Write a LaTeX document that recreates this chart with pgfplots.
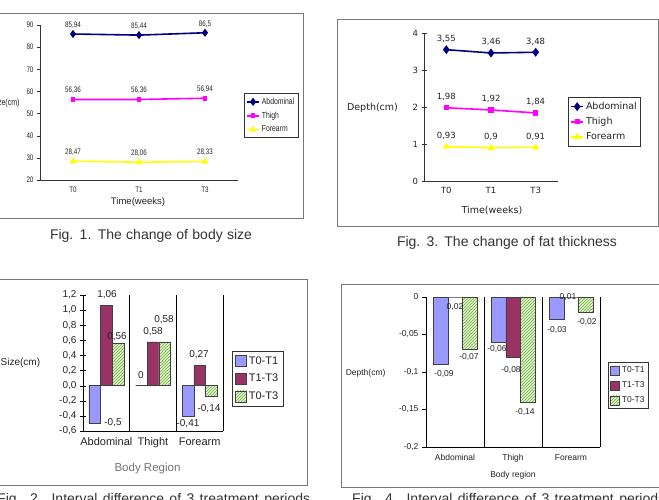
\documentclass[border=0pt]{standalone}
\usepackage{pgfplots}
\pgfplotsset{compat=1.18}
\usetikzlibrary{patterns}
\usepackage{fontspec}
\setmainfont{Liberation Sans}
\newfontfamily\narrowfont[FakeStretch=0.78]{Liberation Sans}
\newfontfamily\dejavu{DejaVu Sans}

\definecolor{navyline}{RGB}{0,0,128}
\definecolor{magline}{RGB}{255,0,255}
\definecolor{yelline}{RGB}{255,255,0}
\definecolor{periw}{RGB}{153,153,255}
\definecolor{plum}{RGB}{153,51,102}
\definecolor{hatchgreen}{RGB}{110,170,60}
\definecolor{hatchbg}{RGB}{225,245,205}
\definecolor{framegray}{RGB}{120,120,120}
\definecolor{ink}{RGB}{35,35,35}

\newcommand\fA{\narrowfont\fontsize{8}{9}\selectfont}
\newcommand\fAleg{\narrowfont\fontsize{8.8}{10}\selectfont}
\newcommand\fAl{\narrowfont\fontsize{9}{10}\selectfont}
\newcommand\fC{\dejavu\fontsize{8.5}{10}\selectfont}
\newcommand\fCl{\dejavu\fontsize{9.5}{11}\selectfont}
\newcommand\fB{\fontsize{10}{11}\selectfont}
\newcommand\fBl{\fontsize{10}{12}\selectfont}
\newcommand\fD{\fontsize{8.5}{10}\selectfont}
\newcommand\fCap{\fontsize{14}{16}\selectfont}

\pgfplotsset{
  linelegend/.style={
    legend image code/.code={
      \draw[mark repeat=2,mark phase=2,##1] plot coordinates {(0pt,0pt) (6pt,0pt) (12pt,0pt)};}
  },
  boxlegend/.style={
    legend image code/.code={\draw[##1] (0pt,-#1/2) rectangle (#1,#1/2);}
  },
  t01/.style={ybar, bar width=0.25, bar shift=0pt, fill=periw, draw=black!75, line width=0.5pt},
  t13/.style={ybar, bar width=0.25, bar shift=0pt, fill=plum, draw=black!75, line width=0.5pt},
  t03/.style={ybar, bar width=0.25, bar shift=0pt, fill=hatchbg, draw=black!75, line width=0.5pt,
    postaction={pattern=north east lines, pattern color=hatchgreen}},
}

\begin{document}
\begin{tikzpicture}[x=1pt,y=1pt]
\path[use as bounding box] (0,0) rectangle (659,-499);
\begin{scope}
\clip (0,0) rectangle (659,-499);

% ---------- frames ----------
\draw[framegray, line width=0.8pt] (-5,-13) rectangle (303,-218);
\draw[framegray, line width=0.8pt] (337,-19) rectangle (658,-226);
\draw[framegray, line width=0.8pt] (-5,-279) rectangle (307,-485);
\draw[framegray, line width=0.8pt] (341,-284) rectangle (668,-487);

% ---------- Fig. 1: body size ----------
\begin{axis}[
  at={(40pt,-180pt)}, anchor=south west, scale only axis,
  width=198pt, height=155pt,
  xmin=-0.5, xmax=2.5, ymin=20, ymax=90,
  axis x line*=bottom, axis y line*=left,
  axis line style={black!80, line width=0.7pt},
  xtick={0,1,2}, xticklabels={T0,T1,T3},
  ytick={20,30,40,50,60,70,80,90},
  tick align=outside, major tick length=3pt,
  xtick style={draw=none}, ytick style={black!80},
  tick label style={font=\fA, text=ink},
  /pgf/number format/assume math mode=true,
  /pgf/number format/use comma,
  /pgf/number format/precision=2,
  nodes near coords,
  nodes near coords style={font=\fA, text=ink, anchor=south, yshift=1.5pt},
  linelegend,
  legend style={at={(1.03,0.561)}, anchor=north west, draw=black!80, line width=0.7pt,
    font=\fAleg, text=ink, inner xsep=2pt, inner ysep=2.5pt, row sep=2pt,
    cells={anchor=west}},
]
\addplot[navyline, line width=1.6pt, mark=diamond*, mark size=2.8pt]
  coordinates {(0,85.94) (1,85.44) (2,86.5)};
\addlegendentry{Abdominal}
\addplot[magline, line width=1.6pt, mark=square*, mark size=1.6pt]
  coordinates {(0,56.36) (1,56.36) (2,56.94)};
\addlegendentry{Thigh}
\addplot[yelline, line width=1.6pt, mark=triangle*, mark size=2.4pt]
  coordinates {(0,28.47) (1,28.06) (2,28.33)};
\addlegendentry{Forearm}
\end{axis}
\node[anchor=east, font=\fAl, text=ink] at (23,-103) {Size(cm)};
\node[font=\fontsize{9.5}{11}\selectfont, text=ink] at (138,-202) {Time(weeks)};

% ---------- Fig. 3: fat thickness ----------
\begin{axis}[
  at={(424pt,-181pt)}, anchor=south west, scale only axis,
  width=134pt, height=148pt,
  xmin=-0.5, xmax=2.5, ymin=0, ymax=4,
  axis x line*=bottom, axis y line*=left,
  axis line style={black!80, line width=0.7pt},
  xtick={0,1,2}, xticklabels={T0,T1,T3},
  ytick={0,1,2,3,4},
  tick align=center, major tick length=5pt,
  xtick style={draw=none}, ytick style={black!80},
  tick label style={font=\fC, text=ink},
  /pgf/number format/assume math mode=true,
  /pgf/number format/use comma,
  /pgf/number format/precision=2,
  nodes near coords,
  nodes near coords style={font=\fC, text=ink, anchor=south, yshift=3pt},
  linelegend,
  legend style={at={(1.075,0.568)}, anchor=north west, draw=black!80, line width=0.7pt,
    font=\fCl, text=ink, inner xsep=2pt, inner ysep=3pt, row sep=2.5pt,
    cells={anchor=west}},
]
\addplot[navyline, line width=1.6pt, mark=diamond*, mark size=3.2pt]
  coordinates {(0,3.55) (1,3.46) (2,3.48)};
\addlegendentry{Abdominal}
\addplot[magline, line width=1.6pt, mark=square*, mark size=1.8pt]
  coordinates {(0,1.98) (1,1.92) (2,1.84)};
\addlegendentry{Thigh}
\addplot[yelline, line width=1.6pt, mark=triangle*, mark size=2.6pt]
  coordinates {(0,0.93) (1,0.9) (2,0.91)};
\addlegendentry{Forearm}
\end{axis}
\node[font=\fCl, text=ink] at (372.5,-108) {Depth(cm)};
\node[font=\fCl, text=ink] at (492,-211) {Time(weeks)};

% ---------- Fig. 2: interval difference of size ----------
\begin{axis}[
  at={(83pt,-431pt)}, anchor=south west, scale only axis,
  width=140pt, height=136pt,
  xmin=-0.5, xmax=2.5, ymin=-0.6, ymax=1.2, clip=false,
  axis x line*=bottom, axis y line*=left,
  axis line style={black, line width=0.8pt},
  xtick={0,1,2}, xticklabels={Abdominal,Thight,Forearm},
  xtick style={draw=none},
  ytick={-0.6,-0.4,-0.2,0,0.2,0.4,0.6,0.8,1.0,1.2},
  yticklabels={{-0,6},{-0,4},{-0,2},{0,0},{0,2},{0,4},{0,6},{0,8},{1,0},{1,2}},
  tick align=center, major tick length=6pt, ytick style={black},
  y tick label style={font=\fB, text=ink},
  x tick label style={font=\fontsize{11}{12}\selectfont, text=ink},
  extra x ticks={0.5,1.5,2.5}, extra x tick labels={},
  extra x tick style={grid=major, grid style={black, line width=0.8pt}, major tick length=0pt},
  boxlegend=11pt,
  legend style={at={(1.064,0.588)}, anchor=north west, draw=black!80, line width=0.7pt,
    font=\fontsize{11}{12}\selectfont, text=ink, inner xsep=3pt, inner ysep=3pt, row sep=4.5pt,
    cells={anchor=west}},
]
\addplot[t01] coordinates {(-0.25,-0.5) (0.75,0) (1.75,-0.41)};
\addlegendentry{T0-T1}
\addplot[t13] coordinates {(0,1.06) (1,0.58) (2,0.27)};
\addlegendentry{T1-T3}
\addplot[t03] coordinates {(0.25,0.56) (1.25,0.58) (2.25,-0.14)};
\addlegendentry{T0-T3}
\begin{scope}[every node/.style={font=\fB, text=ink, inner sep=0pt}]
\node at (axis cs:0.014,1.20)  {1,06};
\node at (axis cs:0.229,0.645) {0,56};
\node at (axis cs:0.143,-0.494) {-0,5};
\node at (axis cs:0.743,0.142) {0};
\node at (axis cs:1.0,0.711)   {0,58};
\node at (axis cs:1.236,0.870) {0,58};
\node at (axis cs:1.986,0.406) {0,27};
\node at (axis cs:2.2,-0.308)  {-0,14};
\node at (axis cs:1.75,-0.507) {-0,41};
\end{scope}
\end{axis}
\node[anchor=west, font=\fBl, text=ink, inner sep=0pt] at (0.5,-363) {Size(cm)};
\node[font=\fontsize{11.5}{13}\selectfont, text=black!55] at (147.5,-469) {Body Region};

% ---------- Fig. 4: interval difference of depth ----------
\begin{axis}[
  at={(426pt,-447pt)}, anchor=south west, scale only axis,
  width=174pt, height=150pt,
  xmin=-0.5, xmax=2.5, ymin=-0.2, ymax=0, clip=false,
  restrict y to domain*=-0.2:0,
  axis x line*=bottom, axis y line*=left,
  axis line style={black, line width=0.8pt},
  xtick={0,1,2}, xticklabels={Abdominal,Thigh,Forearm},
  xtick style={draw=none},
  ytick={-0.2,-0.15,-0.1,-0.05,0},
  yticklabels={{-0,2},{-0,15},{-0,1},{-0,05},0},
  tick align=outside, major tick length=4pt, ytick style={black},
  tick label style={font=\fD, text=ink},
  extra x ticks={0.5,1.5,2.5}, extra x tick labels={},
  extra x tick style={grid=major, grid style={black, line width=0.8pt}, major tick length=0pt},
  boxlegend=9pt,
  legend style={at={(1.046,0.567)}, anchor=north west, draw=black!80, line width=0.7pt,
    font=\fD, text=ink, inner xsep=2pt, inner ysep=2.5pt, row sep=3.5pt,
    cells={anchor=west}},
]
\addplot[t01] coordinates {(-0.25,-0.09) (0.75,-0.06) (1.75,-0.03)};
\addlegendentry{T0-T1}
\addplot[t13] coordinates {(0,0.02) (1,-0.08) (2,0.01)};
\addlegendentry{T1-T3}
\addplot[t03] coordinates {(0.25,-0.07) (1.25,-0.14) (2.25,-0.02)};
\addlegendentry{T0-T3}
\begin{scope}[every node/.style={font=\fD, text=ink, inner sep=0pt}]
\node at (axis cs:0.0,-0.0133)  {0,02};
\node at (axis cs:-0.19,-0.1027) {-0,09};
\node at (axis cs:0.241,-0.08)  {-0,07};
\node at (axis cs:0.724,-0.0693) {-0,06};
\node at (axis cs:0.966,-0.0973) {-0,08};
\node at (axis cs:1.207,-0.1533) {-0,14};
\node at (axis cs:1.759,-0.044) {-0,03};
\node at (axis cs:1.948,0.0)    {0,01};
\node at (axis cs:2.276,-0.0333) {-0,02};
\end{scope}
\end{axis}
\node[anchor=east, font=\fD, text=ink] at (389,-373) {Depth(cm)};
\node[font=\fD, text=ink] at (513,-475) {Body region};

% ---------- captions ----------
\node[anchor=base, font=\fCap, text=black!80, inner sep=0pt] at (151,-239.5)
  {\makebox[202pt][s]{Fig. 1. The change of body size}};
\node[anchor=base, font=\fCap, text=black!80, inner sep=0pt] at (507,-246)
  {\makebox[220pt][s]{Fig. 3. The change of fat thickness}};
\node[anchor=base west, font=\fCap, text=black!80, inner sep=0pt] at (-3,-503)
  {\makebox[313pt][s]{Fig. 2. Interval difference of 3 treatment periods}};
\node[anchor=base west, font=\fCap, text=black!80, inner sep=0pt] at (352,-503)
  {\makebox[313pt][s]{Fig. 4. Interval difference of 3 treatment periods}};
\end{scope}
\end{tikzpicture}
\end{document}
